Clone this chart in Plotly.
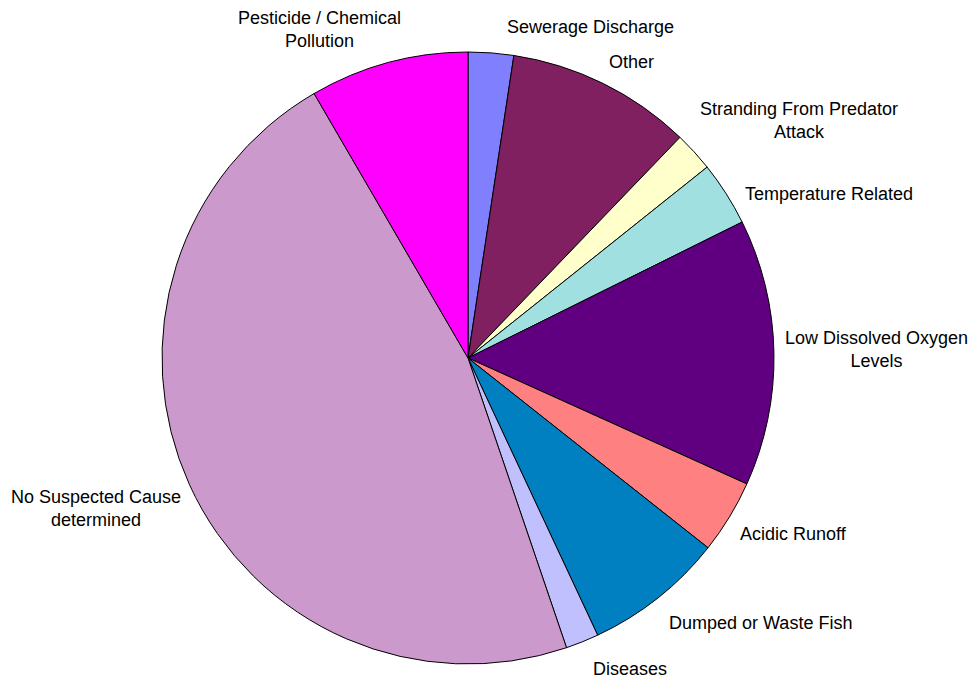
import plotly.graph_objects as go

categories = [
    "Sewerage Discharge",
    "Other",
    "Stranding From Predator Attack",
    "Temperature Related",
    "Low Dissolved Oxygen Levels",
    "Acidic Runoff",
    "Dumped or Waste Fish",
    "Diseases",
    "No Suspected Cause determined",
    "Pesticide / Chemical Pollution",
]
values = [2.4, 9.8, 2.1, 3.4, 14.1, 3.9, 7.4, 1.75, 46.9, 8.4]

label_text = [
    "Sewerage Discharge",
    "Other",
    "Stranding From Predator<br>Attack",
    "Temperature Related",
    "Low Dissolved Oxygen<br>Levels",
    "Acidic Runoff",
    "Dumped or Waste Fish",
    "Diseases",
    "No Suspected Cause<br>determined",
    "Pesticide / Chemical<br>Pollution",
]
# label centre positions in pixels (x, y from top)
label_pos = [
    (590, 27), (631, 62), (799, 120), (829, 194), (876, 350),
    (793, 534), (760, 623), (630, 669), (96, 508), (319, 30),
]
colors = ["#8080FF", "#802060", "#FFFFCC", "#A0E0E0", "#600080",
          "#FF8080", "#0080C0", "#C0C0FF", "#CC99CC", "#FF00FF"]

W, H = 970, 680
cx, cy, r = 468, 358, 306

fig = go.Figure(go.Pie(
    labels=categories,
    values=values,
    sort=False,
    direction="clockwise",
    rotation=0,
    marker=dict(colors=colors, line=dict(color="black", width=1)),
    textinfo="none",
    hoverinfo="label+percent",
    domain=dict(x=[(cx - r) / W, (cx + r) / W], y=[(H - cy - r) / H, (H - cy + r) / H]),
))

for txt, (x, y) in zip(label_text, label_pos):
    fig.add_annotation(
        x=x / W, y=1 - y / H, xref="paper", yref="paper",
        text=txt, showarrow=False, xanchor="center", yanchor="middle",
        align="center",
        font=dict(family="Liberation Sans, Arial, sans-serif", size=18, color="black"),
    )

fig.update_layout(
    width=W, height=H,
    margin=dict(l=0, r=0, t=0, b=0),
    showlegend=False,
    paper_bgcolor="white",
    plot_bgcolor="white",
)

fig.write_html(
    "out.html",
    config={"displayModeBar": False},
    post_script="document.body.style.margin='0';document.body.style.overflow='hidden';",
)
